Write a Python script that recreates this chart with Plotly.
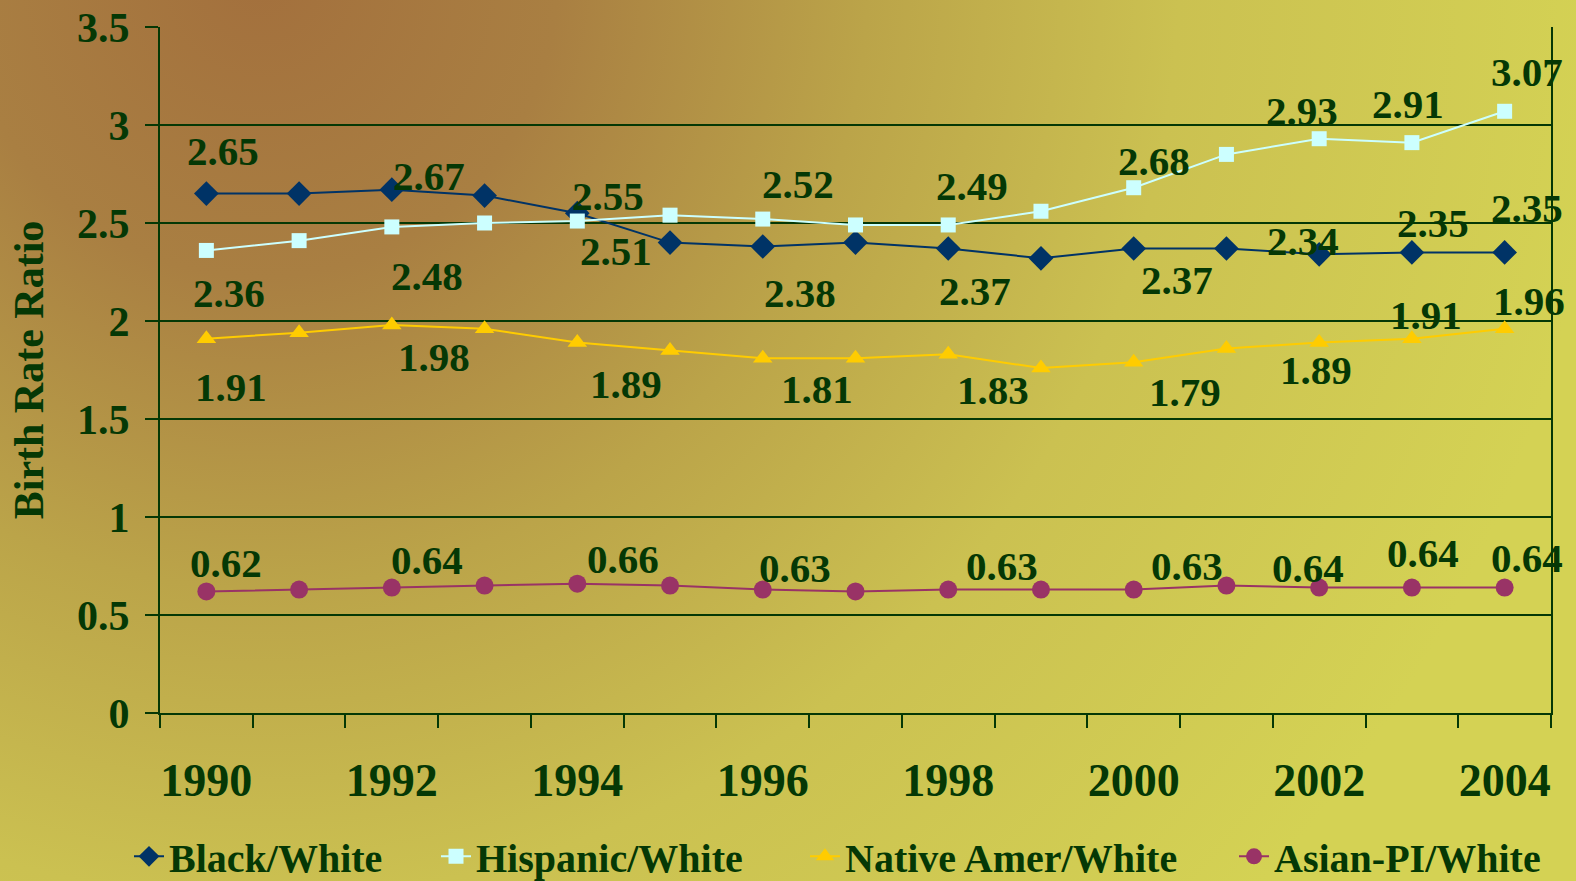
import base64
import plotly.graph_objects as go

# ---------------- data ----------------
years = list(range(1990, 2005))
black_white = [2.65, 2.65, 2.67, 2.64, 2.55, 2.40, 2.38, 2.40, 2.37, 2.32, 2.37, 2.37, 2.34, 2.35, 2.35]
hispanic_white = [2.36, 2.41, 2.48, 2.50, 2.51, 2.54, 2.52, 2.49, 2.49, 2.56, 2.68, 2.85, 2.93, 2.91, 3.07]
native_white = [1.91, 1.94, 1.98, 1.96, 1.89, 1.85, 1.81, 1.81, 1.83, 1.76, 1.79, 1.86, 1.89, 1.91, 1.96]
asian_white = [0.62, 0.63, 0.64, 0.65, 0.66, 0.65, 0.63, 0.62, 0.63, 0.63, 0.63, 0.65, 0.64, 0.64, 0.64]
series_names = ["Black/White", "Hispanic/White", "Native Amer/White", "Asian-PI/White"]
labeled_idx = [0, 2, 4, 6, 8, 10, 12, 13, 14]
x_tick_years = [1990, 1992, 1994, 1996, 1998, 2000, 2002, 2004]
y_ticks = [0, 0.5, 1, 1.5, 2, 2.5, 3, 3.5]

# ---------------- style ----------------
TXT = "#053805"
FONT = "Liberation Serif"
colors = ["#003366", "#ccffff", "#ffcc00", "#993366"]
symbols = ["diamond", "square", "triangle-up", "circle"]
msizes = [19, 15, 17, 18]
# pixel offsets (dx, dy-up) for data labels, per series, per labeled index
label_offsets = [
    [(17, 43), (37, 14), (31, 17), (37, -46), (27, -43), (43, -32), (-16, 13), (21, 29), (22, 44)],
    [(23, -43), (35, -49), (39, -30), (35, 35), (24, 39), (20, 27), (-17, 28), (-4, 39), (22, 39)],
    [(25, -48), (42, -32), (49, -41), (54, -31), (45, -36), (51, -30), (-3, -27), (14, 24), (24, 28)],
    [(20, 28), (35, 28), (46, 25), (32, 22), (54, 24), (53, 24), (-11, 20), (11, 35), (22, 30)],
]
legend_text_left_px = [170, 477, 846, 1275]

all_series = [black_white, hispanic_white, native_white, asian_white]

W, H = 1576, 881
ML, MR, MT, MB = 160, 25, 27, 168
PW, PH = W - ML - MR, H - MT - MB

svg = f"""<svg xmlns='http://www.w3.org/2000/svg' width='{W}' height='{H}'>
<defs><radialGradient id='g' gradientUnits='userSpaceOnUse' cx='260' cy='-20' r='1350'>
<stop offset='0' stop-color='#a3703d'/>
<stop offset='0.22' stop-color='#a97f42'/>
<stop offset='0.45' stop-color='#bba449'/>
<stop offset='0.68' stop-color='#cbc151'/>
<stop offset='1' stop-color='#d4d254'/>
</radialGradient></defs>
<rect width='{W}' height='{H}' fill='url(#g)'/></svg>"""
bg_uri = "data:image/svg+xml;base64," + base64.b64encode(svg.encode()).decode()

fig = go.Figure()
legend_keys = ["legend", "legend2", "legend3", "legend4"]
for name, vals, c, s, ms, lk in zip(series_names, all_series, colors, symbols, msizes, legend_keys):
    fig.add_trace(go.Scatter(
        x=years, y=vals, name=name, mode="lines+markers",
        line=dict(color=c, width=2),
        marker=dict(symbol=s, size=ms, color=c, line=dict(width=0)),
        cliponaxis=False, legend=lk,
    ))

annotations = []
for vals, offs in zip(all_series, label_offsets):
    for i, (dx, dy) in zip(labeled_idx, offs):
        annotations.append(dict(
            x=years[i], y=vals[i], xref="x", yref="y",
            text=f"{vals[i]:.2f}", showarrow=False,
            xshift=dx, yshift=dy,
            font=dict(family=FONT, size=41, color=TXT, weight="bold"),
        ))

legend_font = dict(family=FONT, size=40, color=TXT, weight="bold")
legends = {}
for lk, tx in zip(legend_keys, legend_text_left_px):
    legends[lk] = dict(
        orientation="h", x=(tx - 41 - ML) / PW, xanchor="left",
        y=-0.209, yanchor="middle", font=legend_font,
        bgcolor="rgba(0,0,0,0)", itemwidth=30,
    )

fig.update_layout(
    width=W, height=H,
    margin=dict(l=ML, r=MR, t=MT, b=MB, autoexpand=False),
    paper_bgcolor="#c8b84e",
    plot_bgcolor="rgba(0,0,0,0)",
    font=dict(family=FONT, color=TXT, weight="bold"),
    showlegend=True,
    annotations=annotations,
    images=[dict(
        source=bg_uri, xref="paper", yref="paper",
        x=-ML / PW, y=1 + MT / PH, sizex=W / PW, sizey=H / PH,
        xanchor="left", yanchor="top", sizing="stretch", layer="below",
    )],
    xaxis=dict(
        range=[1989.5, 2004.5],
        tickvals=x_tick_years, ticktext=[str(y) for y in x_tick_years],
        ticks="outside", ticklen=26, tickcolor="rgba(0,0,0,0)",
        tickfont=dict(family=FONT, size=46, color=TXT, weight="bold"),
        showgrid=False, zeroline=False,
        showline=True, linecolor=TXT, linewidth=2,
        minor=dict(tickvals=[y - 0.5 for y in years] + [2004.5], ticks="outside",
                   ticklen=13, tickwidth=2, tickcolor=TXT, showgrid=False),
    ),
    yaxis=dict(
        range=[0, 3.5], tickvals=y_ticks, ticktext=[f"{v:g}" for v in y_ticks],
        ticks="outside", ticklen=13, tickwidth=2, tickcolor=TXT,
        ticklabelstandoff=7,
        tickfont=dict(family=FONT, size=42, color=TXT, weight="bold"),
        showgrid=True, gridcolor=TXT, gridwidth=2, zeroline=False,
        showline=True, linecolor=TXT, linewidth=2, mirror=True,
        title=dict(text="Birth Rate Ratio", standoff=20,
                   font=dict(family=FONT, size=42, color=TXT, weight="bold")),
    ),
    **legends,
)

fig.write_html(
    "out.html",
    config={"displayModeBar": False},
    post_script="document.body.style.margin='0';document.body.style.overflow='hidden';",
)
